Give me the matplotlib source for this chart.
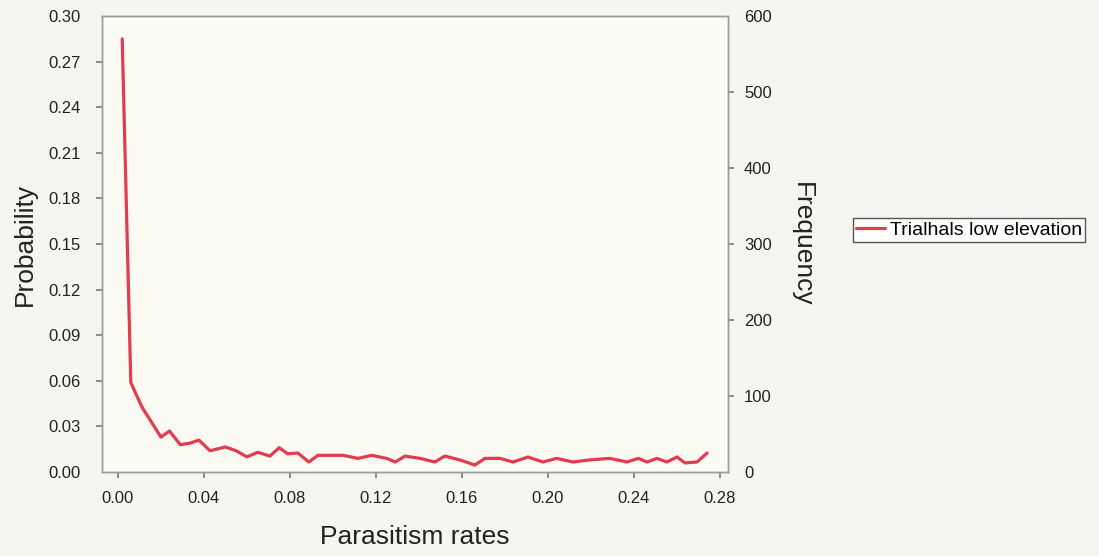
import matplotlib
matplotlib.use("Agg")
import matplotlib.pyplot as plt

plt.rcParams['font.family'] = ['Liberation Sans', 'DejaVu Sans']

# Distribution of parasitism rates (probability per bin)
rate = [0.002, 0.006, 0.0085, 0.0115, 0.016, 0.020, 0.024, 0.029, 0.0335, 0.0377,
        0.0428, 0.050, 0.055, 0.060, 0.065, 0.0707, 0.075, 0.079, 0.0837, 0.0888,
        0.093, 0.1047, 0.1116, 0.118, 0.125, 0.129, 0.1335, 0.1405, 0.1474, 0.152,
        0.159, 0.166, 0.1707, 0.1777, 0.1837, 0.1907, 0.1977, 0.204, 0.2116, 0.2195,
        0.2288, 0.2367, 0.242, 0.246, 0.2507, 0.2553, 0.260, 0.2637, 0.2693, 0.274]
prob = [0.285, 0.059, 0.051, 0.042, 0.032, 0.023, 0.027, 0.018, 0.019, 0.021,
        0.014, 0.0165, 0.014, 0.010, 0.013, 0.0105, 0.016, 0.012, 0.0125, 0.0066,
        0.011, 0.011, 0.009, 0.011, 0.009, 0.0066, 0.0105, 0.009, 0.0066, 0.0105,
        0.008, 0.0046, 0.009, 0.009, 0.0066, 0.0099, 0.0066, 0.009, 0.0066, 0.008,
        0.009, 0.0066, 0.009, 0.0066, 0.009, 0.0066, 0.0099, 0.006, 0.0066, 0.0125]

prob_ticks = [0.00, 0.03, 0.06, 0.09, 0.12, 0.15, 0.18, 0.21, 0.24, 0.27, 0.30]
freq_ticks = [0, 100, 200, 300, 400, 500, 600]
rate_ticks = [0.00, 0.04, 0.08, 0.12, 0.16, 0.20, 0.24, 0.28]

series_name = "Trialhals low elevation"

fig = plt.figure(figsize=(10.99, 5.56), dpi=100, facecolor='#f5f5f2')
ax = fig.add_axes([0.0928, 0.151, 0.5696, 0.820])
ax.set_facecolor('#fbfbf4')

line, = ax.plot(rate, prob, color='#e23c4e', lw=2.3, solid_joinstyle='round',
                solid_capstyle='round')

ax.set_xlim(-0.0074, 0.2837)
ax.set_ylim(0, 0.30)
ax.set_xticks(rate_ticks)
ax.set_xticklabels([f"{v:.2f}" for v in rate_ticks])
ax.set_yticks(prob_ticks)
ax.set_yticklabels([f"{v:.2f}" for v in prob_ticks])

ax2 = ax.twinx()
ax2.set_ylim(0, 600)
ax2.set_yticks(freq_ticks)

for a in (ax, ax2):
    for s in a.spines.values():
        s.set_color('#9a9a9a')
        s.set_linewidth(1.0)
    a.tick_params(colors='#7a7a7a', labelcolor='#222222', labelsize=12,
                  length=4.5, width=1.2, direction='out')
ax.tick_params(axis='y', pad=11)
ax.tick_params(axis='x', pad=9)
ax2.tick_params(axis='y', pad=7)

# no tick marks at the corners of the frame
for t in (ax.yaxis.get_major_ticks()[0], ax.yaxis.get_major_ticks()[-1]):
    t.tick1line.set_visible(False)
for t in (ax2.yaxis.get_major_ticks()[0], ax2.yaxis.get_major_ticks()[-1]):
    t.tick2line.set_visible(False)

ax.set_xlabel("Parasitism rates", fontsize=19, color='#222222', labelpad=14)
ax.set_ylabel("Probability", fontsize=19, color='#222222', labelpad=8)
ax2.set_ylabel("Frequency", fontsize=19, color='#222222', rotation=-90, labelpad=30)

leg = fig.legend([line], [series_name], loc='center', bbox_to_anchor=(0.882, 0.586),
                 fontsize=14, frameon=True, fancybox=False, edgecolor='#555555',
                 facecolor='white', framealpha=1, handlelength=1.5, handletextpad=0.25,
                 borderpad=0.15, borderaxespad=0)
leg.get_frame().set_linewidth(1.0)

fig.savefig("out.png", dpi=100, facecolor=fig.get_facecolor())
